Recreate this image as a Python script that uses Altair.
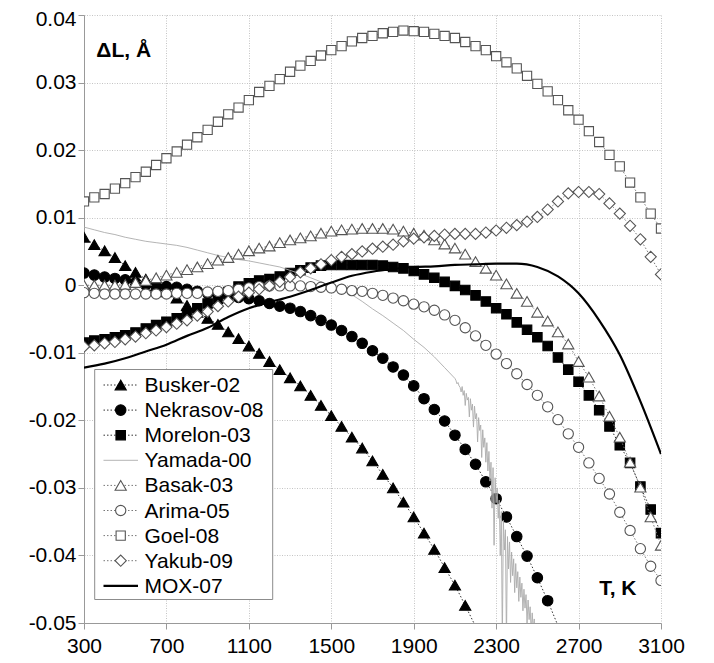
import altair as alt
import pandas as pd

# ---------------- data ----------------
T_GRID = list(range(300, 3101, 50))          # measurement temperatures, K
X_TICKS = [300, 700, 1100, 1500, 1900, 2300, 2700, 3100]
Y_TICKS = [-0.05, -0.04, -0.03, -0.02, -0.01, 0, 0.01, 0.02, 0.03, 0.04]

busker = [0.0071, 0.0060, 0.0051, 0.0041, 0.0029, 0.0019, 0.0009, -0.0001, -0.0010, -0.0019,
          -0.0030, -0.0040, -0.0049, -0.0058, -0.0069, -0.0079, -0.0090, -0.0101, -0.0113, -0.0125,
          -0.0137, -0.0149, -0.0163, -0.0178, -0.0193, -0.0209, -0.0225, -0.0241, -0.0260, -0.0280,
          -0.0300, -0.0321, -0.0343, -0.0367, -0.0391, -0.0418, -0.0444, -0.0474, -0.0505]

nekrasov = [0.0018, 0.0015, 0.0012, 0.0010, 0.0008, 0.0004, 0.0000, -0.0001, -0.0002, -0.0003,
            -0.0006, -0.0009, -0.0012, -0.0014, -0.0016, -0.0018, -0.0020, -0.0023, -0.0027, -0.0031,
            -0.0034, -0.0039, -0.0045, -0.0052, -0.0059, -0.0067, -0.0076, -0.0086, -0.0097, -0.0108,
            -0.0121, -0.0133, -0.0149, -0.0168, -0.0184, -0.0201, -0.0222, -0.0243, -0.0265, -0.0291,
            -0.0316, -0.0343, -0.0372, -0.0401, -0.0433, -0.0467, -0.0504]

morelon = [-0.0085, -0.0082, -0.0080, -0.0077, -0.0074, -0.0070, -0.0064, -0.0059, -0.0054, -0.0049,
           -0.0042, -0.0034, -0.0027, -0.0020, -0.0010, -0.0002, 0.0003, 0.0007, 0.0009, 0.0013,
           0.0018, 0.0022, 0.0026, 0.0029, 0.0030, 0.0030, 0.0030, 0.0030, 0.0030, 0.0029,
           0.0027, 0.0025, 0.0021, 0.0016, 0.0011, 0.0005, -0.0001, -0.0007, -0.0015, -0.0024,
           -0.0034, -0.0043, -0.0055, -0.0066, -0.0077, -0.0090, -0.0107, -0.0125, -0.0143, -0.0163,
           -0.0185, -0.0209, -0.0237, -0.0263, -0.0298, -0.0332, -0.0367]

yamada_T = [300, 350, 400, 450, 500, 550, 600, 650, 700, 750, 800, 850, 900, 950, 1000, 1050,
            1100, 1150, 1200, 1250, 1300, 1350, 1400, 1450, 1500, 1550, 1600, 1650, 1700, 1750,
            1800, 1850, 1900, 1950, 2000, 2050, 2100,
            2105, 2110, 2115, 2120, 2125, 2130, 2135, 2140, 2145, 2150, 2155, 2160, 2165, 2170,
            2175, 2180, 2185, 2190, 2195, 2200, 2205, 2210, 2215, 2220, 2225, 2230, 2235, 2240,
            2245, 2250, 2255, 2260, 2265, 2270, 2275, 2280, 2285, 2290, 2295, 2300, 2305, 2310,
            2315, 2320, 2325, 2330, 2335, 2340, 2345, 2350, 2355, 2360, 2365, 2370, 2375, 2380,
            2385, 2390, 2395, 2400, 2405, 2410, 2415, 2420, 2425, 2430, 2435, 2440, 2445, 2450,
            2455, 2460, 2465, 2470, 2475, 2480, 2485, 2490, 2495, 2500, 2505, 2510, 2515, 2520]
yamada_v = [0.0086, 0.0082, 0.0078, 0.0075, 0.0071, 0.0068, 0.0065, 0.0063, 0.0061, 0.0059,
            0.0056, 0.0052, 0.0048, 0.0044, 0.0041, 0.0038, 0.0036, 0.0033, 0.0030, 0.0027,
            0.0022, 0.0017, 0.0011, 0.0005, -0.0001, -0.0007, -0.0014, -0.0024, -0.0035, -0.0045,
            -0.0056, -0.0067, -0.0080, -0.0092, -0.0106, -0.0122, -0.0138,
            -0.0141, -0.0146, -0.0144, -0.0149, -0.0151, -0.0158, -0.0150, -0.0163, -0.0156, -0.0178,
            -0.0160, -0.0170, -0.0166, -0.0195, -0.0168, -0.0185, -0.0176, -0.0210, -0.0179, -0.0198,
            -0.0190, -0.0232, -0.0196, -0.0215, -0.0207, -0.0255, -0.0214, -0.0240, -0.0226, -0.0262,
            -0.0233, -0.0275, -0.0246, -0.0290, -0.0262, -0.0330, -0.0270, -0.0385, -0.0285, -0.0322,
            -0.0300, -0.0345, -0.0318, -0.0400, -0.0335, -0.0530, -0.0348, -0.0392, -0.0362, -0.0530,
            -0.0372, -0.0420, -0.0380, -0.0440, -0.0395, -0.0430, -0.0405, -0.0455, -0.0412, -0.0448,
            -0.0424, -0.0468, -0.0432, -0.0462, -0.0441, -0.0482, -0.0450, -0.0478, -0.0458, -0.0500,
            -0.0466, -0.0495, -0.0476, -0.0515, -0.0485, -0.0510, -0.0494, -0.0530, -0.0502, -0.0525,
            -0.0510, -0.0540, -0.0518, -0.0545]

basak = [0.0000, 0.0000, 0.0000, 0.0000, 0.0001, 0.0004, 0.0007, 0.0011, 0.0015, 0.0019,
         0.0023, 0.0027, 0.0032, 0.0037, 0.0041, 0.0046, 0.0051, 0.0055, 0.0058, 0.0063,
         0.0067, 0.0070, 0.0073, 0.0077, 0.0080, 0.0082, 0.0083, 0.0084, 0.0084, 0.0084,
         0.0083, 0.0080, 0.0077, 0.0074, 0.0067, 0.0061, 0.0055, 0.0046, 0.0035, 0.0025,
         0.0015, 0.0002, -0.0012, -0.0024, -0.0040, -0.0053, -0.0069, -0.0087, -0.0113, -0.0136,
         -0.0164, -0.0194, -0.0225, -0.0262, -0.0299, -0.0343, -0.0385]

arima = [-0.0011, -0.0012, -0.0013, -0.0013, -0.0013, -0.0013, -0.0013, -0.0013, -0.0013, -0.0012,
         -0.0012, -0.0012, -0.0010, -0.0009, -0.0008, -0.0006, -0.0004, -0.0002, -0.0001, -0.0001,
         -0.0001, -0.0001, -0.0002, -0.0003, -0.0004, -0.0006, -0.0008, -0.0009, -0.0012, -0.0015,
         -0.0019, -0.0023, -0.0028, -0.0032, -0.0037, -0.0044, -0.0052, -0.0063, -0.0075, -0.0089,
         -0.0102, -0.0116, -0.0131, -0.0147, -0.0163, -0.0180, -0.0199, -0.0220, -0.0240, -0.0263,
         -0.0286, -0.0309, -0.0336, -0.0363, -0.0390, -0.0416, -0.0437]

goel = [0.0124, 0.0130, 0.0135, 0.0143, 0.0151, 0.0160, 0.0168, 0.0178, 0.0188, 0.0198,
        0.0208, 0.0219, 0.0230, 0.0242, 0.0253, 0.0263, 0.0274, 0.0286, 0.0295, 0.0305,
        0.0316, 0.0325, 0.0332, 0.0340, 0.0348, 0.0354, 0.0361, 0.0366, 0.0369, 0.0373,
        0.0375, 0.0377, 0.0376, 0.0375, 0.0372, 0.0369, 0.0366, 0.0360, 0.0354, 0.0348,
        0.0339, 0.0330, 0.0321, 0.0310, 0.0298, 0.0287, 0.0274, 0.0259, 0.0245, 0.0228,
        0.0212, 0.0193, 0.0176, 0.0152, 0.0130, 0.0106, 0.0084]

yakub = [-0.0091, -0.0089, -0.0086, -0.0084, -0.0080, -0.0076, -0.0071, -0.0067, -0.0062, -0.0057,
         -0.0052, -0.0045, -0.0039, -0.0031, -0.0024, -0.0017, -0.0011, -0.0006, -0.0001, 0.0005,
         0.0012, 0.0019, 0.0025, 0.0031, 0.0037, 0.0042, 0.0046, 0.0050, 0.0054, 0.0057,
         0.0060, 0.0065, 0.0069, 0.0071, 0.0073, 0.0075, 0.0076, 0.0076, 0.0076, 0.0078,
         0.0081, 0.0085, 0.0089, 0.0094, 0.0101, 0.0112, 0.0124, 0.0136, 0.0138, 0.0138,
         0.0135, 0.0121, 0.0106, 0.0088, 0.0068, 0.0042, 0.0016]

mox_T = [300, 400, 500, 600, 700, 800, 900, 1000, 1100, 1200, 1300, 1400, 1500, 1600, 1700,
         1800, 1900, 2000, 2100, 2200, 2300, 2400, 2500, 2600, 2700, 2800, 2900, 3000, 3100]
mox_v = [-0.0122, -0.0116, -0.0108, -0.0098, -0.0088, -0.0075, -0.0063, -0.0047, -0.0034, -0.0025,
         -0.0017, -0.0007, 0.0004, 0.0014, 0.0020, 0.0024, 0.0027, 0.0028, 0.0030, 0.0031,
         0.0032, 0.0032, 0.0027, 0.0013, -0.0012, -0.0052, -0.0103, -0.0172, -0.0250]

NAMES = ["Busker-02", "Nekrasov-08", "Morelon-03", "Yamada-00", "Basak-03",
         "Arima-05", "Goel-08", "Yakub-09", "MOX-07"]

# ---------------- styles ----------------
FONT = "Liberation Sans"
DOT = [1.5, 2]
STYLE = {
    "Busker-02":   dict(T=T_GRID[:len(busker)], v=busker, line=dict(color="#333333", strokeWidth=1, strokeDash=DOT),
                        pt=dict(shape="triangle-up", fill="black", stroke="black", size=125)),
    "Nekrasov-08": dict(T=T_GRID[:len(nekrasov)], v=nekrasov, line=dict(color="#333333", strokeWidth=1, strokeDash=DOT),
                        pt=dict(shape="circle", fill="black", stroke="black", size=110)),
    "Morelon-03":  dict(T=T_GRID, v=morelon, line=dict(color="#333333", strokeWidth=1, strokeDash=DOT),
                        pt=dict(shape="square", fill="black", stroke="black", size=90)),
    "Yamada-00":   dict(T=yamada_T, v=yamada_v, line=dict(color="#acacac", strokeWidth=0.9), pt=None),
    "Basak-03":    dict(T=T_GRID, v=basak, line=dict(color="#777777", strokeWidth=1, strokeDash=DOT),
                        pt=dict(shape="triangle-up", fill="white", stroke="#555555", size=125)),
    "Arima-05":    dict(T=T_GRID, v=arima, line=dict(color="#777777", strokeWidth=1, strokeDash=DOT),
                        pt=dict(shape="circle", fill="white", stroke="#555555", size=105)),
    "Goel-08":     dict(T=T_GRID, v=goel, line=dict(color="#777777", strokeWidth=1, strokeDash=DOT),
                        pt=dict(shape="square", fill="white", stroke="#555555", size=85)),
    "Yakub-09":    dict(T=T_GRID, v=yakub, line=dict(color="#777777", strokeWidth=1, strokeDash=DOT),
                        pt=dict(shape="diamond", fill="white", stroke="#555555", size=125)),
    "MOX-07":      dict(T=mox_T, v=mox_v, line=dict(color="black", strokeWidth=2.2, interpolate="monotone"), pt=None),
}

X = alt.X("T:Q",
          scale=alt.Scale(domain=[300, 3100], nice=False, zero=False),
          axis=alt.Axis(values=X_TICKS, format="d", title=None, labelFont=FONT, labelFontSize=21,
                        labelColor="black", labelPadding=6, labelFlush=False,
                        tickSize=6, tickColor="#999999", domainColor="#999999",
                        grid=True, gridColor="#c4c4c4", gridDash=[1, 1.5], gridWidth=1))
Y = alt.Y("v:Q",
          scale=alt.Scale(domain=[-0.05, 0.04], nice=False, zero=False),
          axis=alt.Axis(values=Y_TICKS, title=None, labelFont=FONT, labelFontSize=21,
                        labelColor="black", labelPadding=2, labelFlush=False,
                        labelOffset={"condition": {"test": "datum.value > 0.035", "value": 4.5}, "value": 0},
                        labelExpr="abs(datum.value) < 1e-9 ? '0' : (datum.value < 0 ? '-' : '') + format(abs(datum.value), '.2f')",
                        tickSize=6, tickColor="#999999", domainColor="#999999",
                        grid=True, gridColor="#c4c4c4", gridDash=[1, 1.5], gridWidth=1))

layers = []
for name in NAMES:
    st = STYLE[name]
    df = pd.DataFrame({"T": st["T"], "v": st["v"]})
    base = alt.Chart(df)
    layers.append(base.mark_line(clip=True, **st["line"]).encode(x=X, y=Y))
    if st["pt"] is not None:
        p = st["pt"]
        layers.append(
            base.transform_filter("datum.v >= -0.0501")
            .mark_point(clip=True, filled=True, opacity=1, strokeWidth=1.1, **p)
            .encode(x=X, y=Y)
        )

# annotation labels placed in data space
ann = pd.DataFrame({"T": [360, 2800], "v": [0.0347, -0.0450], "txt": ["ΔL, Å", "T, K"]})
layers.append(alt.Chart(ann).mark_text(font=FONT, fontSize=21, fontWeight="bold", align="left",
                                       baseline="middle", color="black")
              .encode(x=X, y=Y, text="txt:N"))

# ---------------- legend (drawn inside the plot) ----------------
one = alt.Data(values=[{"k": 0}])
LEG_X0, LEG_X1, LEG_Y0, LEG_Y1 = 10.7, 188.7, 354.5, 584.5
ROW0, ROW_H = 370.0, 25.1
layers.append(alt.Chart(one).mark_rect(fill="white", stroke="#8c8c8c", strokeWidth=1)
              .encode(x=alt.value(LEG_X0), x2=alt.value(LEG_X1), y=alt.value(LEG_Y0), y2=alt.value(LEG_Y1)))
for i, name in enumerate(NAMES):
    st = STYLE[name]
    yy = ROW0 + ROW_H * i
    lstyle = dict(st["line"])
    lstyle.pop("interpolate", None)
    layers.append(alt.Chart(one).mark_rule(**lstyle)
                  .encode(x=alt.value(19.5), x2=alt.value(54), y=alt.value(yy)))
    if st["pt"] is not None:
        layers.append(alt.Chart(one).mark_point(filled=True, opacity=1, strokeWidth=1.1, **st["pt"])
                      .encode(x=alt.value(36.7), y=alt.value(yy)))
    layers.append(alt.Chart(one).mark_text(font=FONT, fontSize=21, align="left", baseline="middle",
                                           color="black", text=name)
                  .encode(x=alt.value(60.5), y=alt.value(yy + 1)))

chart = (
    alt.layer(*layers)
    .properties(width=577, height=608,
                padding={"left": 76, "top": 7, "right": 40, "bottom": 40},
                autosize=alt.AutoSizeParams(type="none"),
                background="white")
    .configure_view(stroke=None)
)

chart.save("out.html", embed_options={"renderer": "svg", "actions": False})
